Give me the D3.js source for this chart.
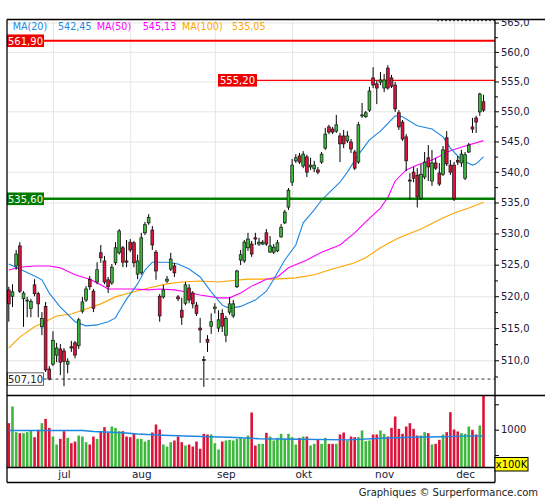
<!DOCTYPE html>
<html><head><meta charset="utf-8">
<script src="https://cdn.jsdelivr.net/npm/d3@7"></script>
<style>
html,body{margin:0;padding:0;background:#fff;}
svg{display:block;}
text{font-family:"DejaVu Sans",Verdana,sans-serif;}
</style></head><body>
<svg id="chart" width="545" height="500"></svg>
<script>
// ---------- DATA ----------
const openP = [521.0,520.0,524.8,528.0,519.6,519.3,518.1,521.8,520.4,515.2,518.4,508.65,509.4,510.8,511.75,511.45,509.4,512.1,512.7,512.25,
517.65,519.4,522.7,520.8,522.25,526.9,525.6,522.6,522.1,525.3,526.9,527.7,525.6,528.6,528.5,523.5,523.7,530.1,531.7,530.55,
527.0,520.0,519.9,522.4,524.3,524.8,519.9,517.8,518.9,521.3,520.5,518.6,515.0,510.1,513.25,515.3,518.1,515.0,517.3,513.9,
517.5,516.9,521.5,525.75,525.6,527.7,528.3,529.3,528.3,528.3,530.1,527.0,527.0,527.2,529.45,531.7,534.25,538.3,541.8,542.6,
540.95,542.45,540.8,540.5,540.3,541.6,543.9,547.4,547.05,546.7,545.9,545.9,545.1,544.9,543.25,541.6,549.25,549.1,550.2,555.6,
554.6,554.9,553.9,557.25,555.6,554.4,549.75,548.2,545.75,538.65,539.95,539.45,535.7,539.15,542.3,538.5,541.45,539.8,539.6,545.6,
541.1,541.1,541.9,541.45,538.95,543.25,547.4,548.9,549.9,551.6];
const highP = [521.5,521.9,527.35,528.6,520.8,519.9,519.6,522.7,520.7,517.5,519.1,509.1,514.5,512.7,512.5,511.9,510.3,513.0,513.0,516.6,
519.9,521.6,523.2,521.15,525.4,528.15,526.4,523.05,525.1,528.6,530.7,528.0,528.95,529.1,528.8,526.6,530.1,531.85,533.1,531.2,
527.35,520.35,521.8,523.2,526.9,525.3,520.2,519.75,522.25,521.9,520.8,519.1,516.6,510.65,513.9,517.3,518.9,517.8,517.95,516.9,
519.9,519.4,524.2,527.35,528.95,530.1,528.8,530.1,529.3,528.95,530.7,529.6,528.3,528.95,531.5,533.8,537.35,542.1,542.9,543.1,
543.4,542.8,542.3,541.8,540.8,543.25,547.25,547.75,547.4,549.4,546.4,546.9,546.7,545.4,543.6,548.2,551.4,550.05,554.1,557.4,
555.1,556.6,556.25,557.75,556.1,554.9,550.2,548.55,546.2,539.8,540.8,540.6,541.3,543.25,544.4,543.6,542.3,541.45,544.25,546.7,
541.94,541.6,542.6,543.6,543.25,544.75,548.9,549.25,553.1,552.75];
const lowP = [516.0,518.3,524.2,520.5,515.2,516.7,516.7,520.0,516.7,513.9,508.2,506.9,509.1,509.7,507.7,506.0,508.0,511.3,510.3,511.75,
517.3,519.1,521.0,517.5,521.9,525.3,521.9,520.5,521.8,524.95,526.6,524.6,524.6,527.0,524.6,522.7,523.4,529.75,531.4,527.35,
522.6,516.0,519.6,522.1,524.0,523.05,519.25,515.5,518.6,518.9,518.1,516.9,512.7,505.9,511.3,514.1,517.3,514.4,514.4,512.8,
517.1,516.6,521.3,524.95,525.3,527.2,526.25,528.15,528.0,528.15,528.0,526.9,526.7,527.0,529.3,531.5,533.8,537.7,541.45,541.3,
540.6,539.15,540.3,539.95,539.6,541.3,543.6,546.2,546.2,546.4,541.6,543.9,544.75,543.1,540.3,541.3,548.9,548.9,549.9,553.9,
551.2,554.4,553.2,553.6,553.9,549.9,546.9,545.1,540.1,535.4,538.3,534.2,535.4,538.8,538.5,537.7,540.3,537.7,539.3,540.95,
539.5,535.25,541.1,540.8,538.65,543.1,546.4,546.4,549.25,549.9];
const closeP = [518.8,520.7,526.7,520.8,520.5,519.4,519.2,520.4,518.8,516.5,508.5,507.1,513.1,511.9,509.7,509.85,509.85,511.9,510.8,516.3,
519.1,521.15,521.5,518.1,524.2,526.1,522.25,521.5,524.6,527.7,530.4,525.4,525.4,527.35,525.3,525.6,529.3,531.4,532.6,528.15,
524.0,516.9,521.0,522.7,525.9,523.7,519.6,516.7,521.8,519.4,518.8,517.3,514.7,510.0,512.8,516.0,518.3,516.3,515.3,516.5,
518.8,518.8,524.0,526.6,528.6,529.1,526.7,529.1,528.6,528.6,528.3,528.0,527.8,528.5,531.0,533.45,537.0,541.1,542.3,541.6,
542.9,539.95,541.1,541.1,539.95,542.9,546.2,546.55,546.55,547.75,544.6,544.6,545.9,543.75,540.6,547.75,549.4,549.75,553.4,554.4,
553.9,555.25,555.25,553.9,554.2,550.4,547.4,545.4,541.8,538.5,538.95,535.9,539.6,541.6,540.8,541.45,540.6,538.0,543.6,541.3,
539.95,535.6,541.6,542.9,542.8,544.4,547.05,548.2,552.9,550.2];
const volume = [1128,1456,951,931,931,951,984,852,997,1128,1213,1036,865,708,819,970,839,734,767,885,
865,754,708,865,819,964,1049,938,1062,1036,970,970,865,852,918,819,819,767,800,944,
1102,1003,708,669,754,787,865,754,688,708,669,767,623,918,905,905,734,610,767,787,
800,787,819,839,819,885,1338,688,721,721,938,865,787,839,918,819,918,852,708,839,
865,865,688,721,806,721,839,721,721,721,905,944,787,865,852,852,984,774,787,905,
905,984,918,865,1036,1259,1016,918,1062,1128,1016,885,885,951,931,708,721,800,905,951,
1345,1003,964,931,918,1062,997,905,1082,1750];
const ma20Idx = [0,7,9,11,14,18,21,24,27,29,30,32,35,37,39,43,46,49,52,55,58,60,63,67,70,72,75,78,80,83,85,90,92,95,96,98,101,105,107,111,115,118,120,123,126,127,129];
const ma20Val = [525.1,523.2,522.6,520.5,518.3,516.0,515.35,515.5,516.0,516.6,517.65,519.55,521.95,524.15,525.4,525.4,525.1,524.3,523.05,520.7,518.6,518.1,518.4,519.4,520.8,522.7,525.75,528.15,531.7,533.8,535.4,538.3,539.95,542.8,543.6,545.25,546.7,549.25,549.1,547.6,547.05,545.75,543.9,541.95,541.1,541.3,542.45];
const ma50Idx = [0,3,7,11,14,18,22,25,27,34,38,41,45,48,52,57,60,63,66,70,73,76,81,85,90,94,97,101,103,105,108,111,115,120,124,129];
const ma50Val = [524.15,524.6,524.8,524.8,524.5,523.4,522.7,521.8,521.15,521.15,521.0,521.15,521.0,520.7,520.2,519.75,519.75,520.5,521.6,522.7,523.05,524.5,525.75,527.0,528.15,530.1,531.85,534.1,535.8,538.5,540.3,541.1,541.95,543.45,544.25,545.13];
const ma100Idx = [0,3,7,11,13,17,20,25,29,34,38,43,47,52,57,65,72,78,83,88,94,97,101,106,112,117,121,125,129];
const ma100Val = [511.9,513.6,515.2,516.3,516.9,517.2,517.8,518.8,519.9,520.7,521.3,521.95,522.25,522.4,522.25,522.7,522.7,522.9,523.4,524.3,525.3,526.1,527.7,529.3,530.7,532.2,533.3,534.1,535.05];
const volMaIdx = [0,20,23,31,35,42,50,60,68,79,92,103,109,118,123,129];
const volMaVal = [984,984,965,938,915,890,870,850,822,812,800,835,850,862,872,878];
const monthStart = [12,33,56,77,99,121];
const monthLabelIdx = [15,36,59,80,102,124];
const monthLabels = ["jul","aug","sep","okt","nov","dec"];
const priceTicks = [510,515,520,525,530,535,540,545,550,555,560,565];
const priceMinor = [507.5,512.5,517.5,522.5,527.5,532.5,537.5,542.5,547.5,552.5,557.5,562.5];
const volTicks = [500,1000,1500];
const levelValues = [561.90,555.20,535.60,507.10];
const levelLabels = ["561,90","555,20","535,60","507,10"];
const maNames = ["MA(20)","MA(50)","MA(100)"];
const maLast = ["542,45","545,13","535,05"];

// ---------- LAYOUT ----------
const L=7,R=495,T=19.5,MB=395.5,VB=467.5,B=482.5;
const UP="#3cb83c", DN="#dc143c";
const MA20C="#1c86e0", MA50C="#ff00ff", MA100C="#ffa500";
const svg=d3.select('#chart');
const x=d3.scaleLinear().domain([0,129]).range([8.8,483.5]);
const y=d3.scaleLog().domain([504.55,565.53]).range([395.7,T]);
const yv=d3.scaleLinear().domain([255,1673]).range([VB,MB]);
const fmt=d=>d.toFixed(1).replace('.',',');

const defs=svg.append('defs');
defs.append('clipPath').attr('id','cm').append('rect').attr('x',L).attr('y',T).attr('width',R-L).attr('height',MB-T);
defs.append('clipPath').attr('id','cv').append('rect').attr('x',L).attr('y',MB).attr('width',R-L).attr('height',VB-MB);
defs.append('clipPath').attr('id','ca').append('rect').attr('x',R).attr('y',T).attr('width',60).attr('height',B-T);

// grid
const gGrid=svg.append('g').attr('transform',`translate(${L},0)`)
  .call(d3.axisRight(y).tickValues(priceTicks).tickSize(R-L).tickFormat(''));
gGrid.select('.domain').remove();
gGrid.selectAll('line').attr('stroke','#e6e6e6');
const gVG=svg.append('g').attr('transform',`translate(0,${MB})`)
  .call(d3.axisBottom(x).tickValues(monthStart).tickSize(-(MB-T)).tickFormat(''));
gVG.select('.domain').remove(); gVG.selectAll('line').attr('stroke','#e6e6e6');
const gVG2=svg.append('g').attr('transform',`translate(0,${VB})`)
  .call(d3.axisBottom(x).tickValues(monthStart).tickSize(-(VB-MB)).tickFormat(''));
gVG2.select('.domain').remove(); gVG2.selectAll('line').attr('stroke','#e6e6e6');

// main panel content
const gm=svg.append('g').attr('clip-path','url(#cm)');
const line=d3.line().x(d=>x(d[0])).y(d=>y(d[1]));
gm.append('path').datum(d3.zip(ma100Idx,ma100Val)).attr('d',line).attr('fill','none').attr('stroke',MA100C).attr('stroke-width',1.1);
gm.append('path').datum(d3.zip(ma50Idx,ma50Val)).attr('d',line).attr('fill','none').attr('stroke',MA50C).attr('stroke-width',1.1);
gm.append('path').datum(d3.zip(ma20Idx,ma20Val)).attr('d',line).attr('fill','none').attr('stroke',MA20C).attr('stroke-width',1.1);

// level lines
gm.append('line').attr('x1',L).attr('x2',R).attr('y1',y(levelValues[0])).attr('y2',y(levelValues[0])).attr('stroke','#ff0000').attr('stroke-width',2);
gm.append('line').attr('x1',257).attr('x2',R).attr('y1',y(levelValues[1])).attr('y2',y(levelValues[1])).attr('stroke','#ff0000').attr('stroke-width',1.2);
gm.append('line').attr('x1',L).attr('x2',R).attr('y1',y(levelValues[2])).attr('y2',y(levelValues[2])).attr('stroke','#008000').attr('stroke-width',2.6);
gm.append('line').attr('x1',43.5).attr('x2',R).attr('y1',y(levelValues[3])).attr('y2',y(levelValues[3])).attr('stroke','#333').attr('stroke-width',1).attr('stroke-dasharray','3,3');
gm.append('line').attr('x1',437).attr('x2',R).attr('y1',T+1.2).attr('y2',T+1.2).attr('stroke','#333').attr('stroke-width',1).attr('stroke-dasharray','2,2');

// candles
const idx=d3.range(openP.length);
const gc=gm.append('g');
gc.selectAll('line.w').data(idx).join('line').attr('class','w')
  .attr('x1',i=>x(i)).attr('x2',i=>x(i)).attr('y1',i=>y(highP[i])).attr('y2',i=>y(lowP[i]))
  .attr('stroke','#000').attr('stroke-width',1);
gc.selectAll('rect').data(idx).join('rect')
  .attr('x',i=>x(i)-1.4).attr('width',2.8)
  .attr('y',i=>y(Math.max(openP[i],closeP[i])))
  .attr('height',i=>Math.max(1,Math.abs(y(openP[i])-y(closeP[i]))))
  .attr('fill',i=>closeP[i]>=openP[i]?UP:DN).attr('stroke','#111').attr('stroke-width',0.7);

// level labels
function box(x0,x1,v,bg,stroke,fg,txt){
  const yc=y(v);
  svg.append('rect').attr('x',x0).attr('y',yc-6.3).attr('width',x1-x0).attr('height',12.6).attr('fill',bg).attr('stroke',stroke||'none');
  svg.append('text').attr('x',(x0+x1)/2).attr('y',yc+3.8).attr('text-anchor','middle').attr('font-size',10).attr('fill',fg).text(txt);
}
box(L,44,levelValues[0],'#ee0000',null,'#fff',levelLabels[0]);
box(218,257,levelValues[1],'#ee0000',null,'#fff',levelLabels[1]);
box(L,44,levelValues[2],'#007a00',null,'#fff',levelLabels[2]);
box(L+0.5,43.5,levelValues[3],'#fff','#666','#222',levelLabels[3]);

// volume
const gv=svg.append('g').attr('clip-path','url(#cv)');
gv.selectAll('rect').data(idx).join('rect')
  .attr('x',i=>x(i)-1.3).attr('width',2.6)
  .attr('y',i=>yv(volume[i])).attr('height',i=>VB-yv(volume[i]))
  .attr('fill',i=>closeP[i]>=openP[i]?UP:DN);
gv.append('path').datum(d3.zip(volMaIdx,volMaVal)).attr('d',d3.line().x(d=>x(d[0])).y(d=>yv(d[1])))
  .attr('fill','none').attr('stroke',MA20C).attr('stroke-width',1.4);

// frame
const fr=svg.append('g').attr('stroke','#000').attr('stroke-width',1.3);
fr.append('line').attr('x1',L).attr('x2',545).attr('y1',T).attr('y2',T);
fr.append('line').attr('x1',L).attr('x2',545).attr('y1',MB).attr('y2',MB);
fr.append('line').attr('x1',L).attr('x2',R).attr('y1',VB).attr('y2',VB);
fr.append('line').attr('x1',L).attr('x2',R).attr('y1',B).attr('y2',B);
fr.append('line').attr('x1',L).attr('x2',L).attr('y1',T).attr('y2',B);
fr.append('line').attr('x1',R).attr('x2',R).attr('y1',T).attr('y2',B);

// right axes
const ga=svg.append('g').attr('clip-path','url(#ca)');
const gy=ga.append('g').attr('transform',`translate(${R},0)`)
  .call(d3.axisRight(y).tickValues(priceTicks).tickSize(4).tickPadding(2).tickFormat(fmt));
gy.select('.domain').remove();
gy.selectAll('text').attr('font-size',10).attr('fill','#1a1a3a').attr('font-family','"DejaVu Sans",Verdana,sans-serif');
const gy2=ga.append('g').attr('transform',`translate(${R},0)`)
  .call(d3.axisRight(y).tickValues(priceMinor).tickSize(3).tickFormat(''));
gy2.select('.domain').remove();
const gvy=ga.append('g').attr('transform',`translate(${R},0)`)
  .call(d3.axisRight(yv).tickValues(volTicks).tickSize(4).tickPadding(2).tickFormat(d=>d===1000?'1000':''));
gvy.select('.domain').remove();
gvy.selectAll('text').attr('font-size',10).attr('fill','#1a1a3a').attr('font-family','"DejaVu Sans",Verdana,sans-serif');

// x100K box
svg.append('rect').attr('x',R).attr('y',457.5).attr('width',33).attr('height',13.5).attr('fill','#ffff00').attr('stroke','#000').attr('stroke-width',1);
svg.append('text').attr('x',R+16.5).attr('y',468).attr('text-anchor','middle').attr('font-size',10).attr('fill','#000').text('x100K');

// month labels
const gx=svg.append('g').attr('transform',`translate(0,${VB})`)
  .call(d3.axisBottom(x).tickValues(monthLabelIdx).tickSize(0).tickPadding(3.2).tickFormat((d,i)=>monthLabels[i]));
gx.select('.domain').remove();
gx.selectAll('text').attr('font-size',10.5).attr('fill','#1a1a3a').attr('font-family','"DejaVu Sans",Verdana,sans-serif');

// legend
const legX=[12.7,58,96.7,142.7,182,232];
const legC=[MA20C,MA20C,MA50C,MA50C,MA100C,MA100C];
const legT=[maNames[0],maLast[0],maNames[1],maLast[1],maNames[2],maLast[2]];
svg.selectAll('text.leg').data(legT).join('text').attr('class','leg')
  .attr('x',(d,i)=>legX[i]).attr('y',30).attr('font-size',9.6).attr('fill',(d,i)=>legC[i]).text(d=>d);

// footer
svg.append('text').attr('x',538).attr('y',496).attr('text-anchor','end').attr('font-size',10).attr('fill','#222').text('Graphiques © Surperformance.com');
</script>
</body></html>
